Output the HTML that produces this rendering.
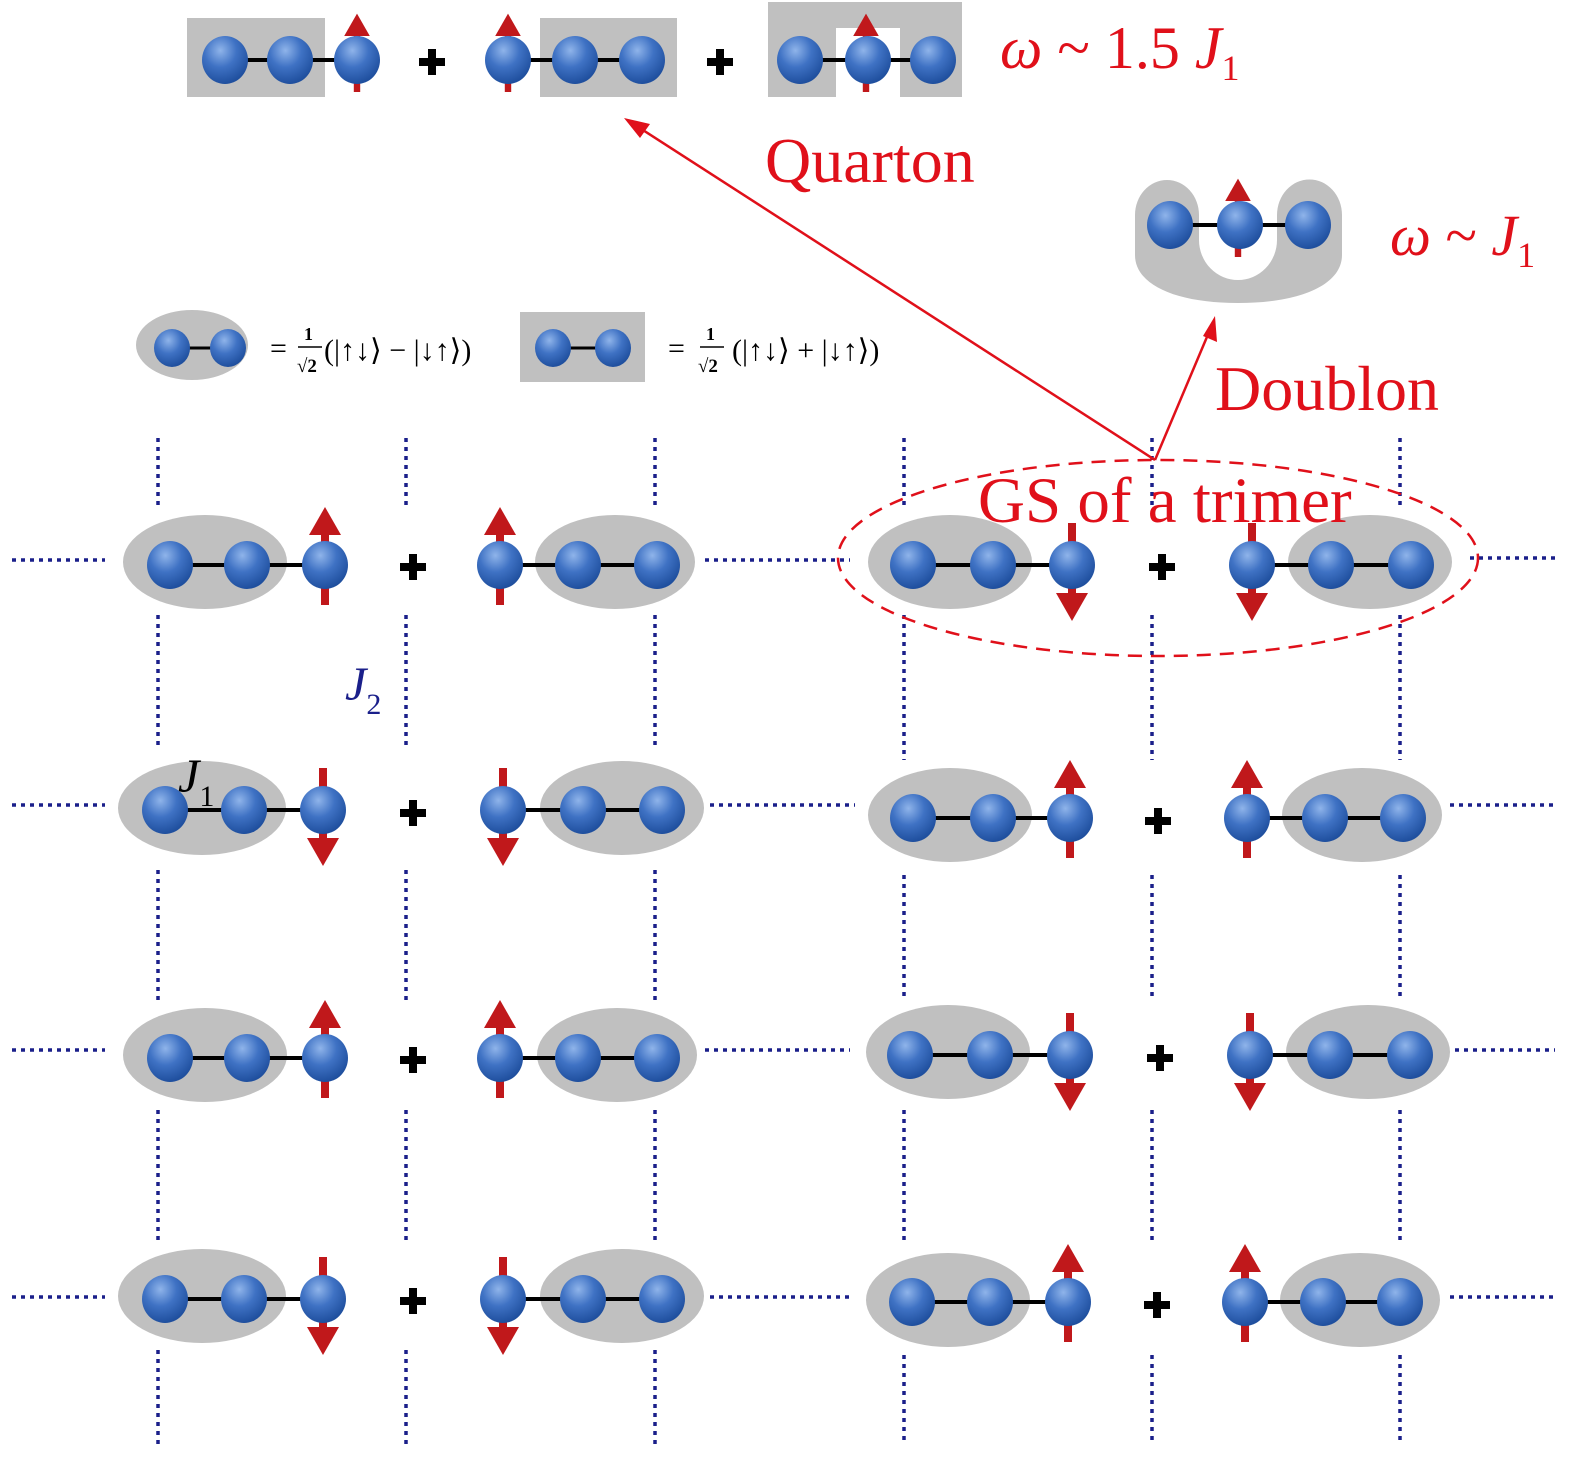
<!DOCTYPE html>
<html><head><meta charset="utf-8"><style>html,body{margin:0;padding:0;background:#fff}svg{display:block}</style></head><body>
<svg width="1583" height="1460" viewBox="0 0 1583 1460" xmlns="http://www.w3.org/2000/svg">
<defs>
<radialGradient id="bg" cx="0.4" cy="0.3" r="0.7"><stop offset="0" stop-color="#8fb4ea"/><stop offset="0.5" stop-color="#3f72c4"/><stop offset="1" stop-color="#1f4f9e"/></radialGradient>
<g id="b"><ellipse cx="0" cy="0" rx="23" ry="24" fill="url(#bg)"/></g>
<g id="bs"><ellipse cx="0" cy="0" rx="18" ry="19" fill="url(#bg)"/></g>
<g id="up"><rect x="-4" y="-30" width="8" height="70" fill="#c0181b"/><polygon points="-16,-30 16,-30 0,-58" fill="#c0181b"/></g>
<g id="dn"><rect x="-4" y="-42" width="8" height="70" fill="#c0181b"/><polygon points="-16,28 16,28 0,56" fill="#c0181b"/></g>
<g id="pl"><rect x="-13" y="-4" width="26" height="8" fill="#000"/><rect x="-4" y="-13" width="8" height="26" fill="#000"/></g>
</defs>
<g stroke="#1a1f8a" stroke-width="3.5" stroke-dasharray="4,5">
<line x1="158" y1="438" x2="158" y2="505"/><line x1="158" y1="615" x2="158" y2="750"/><line x1="158" y1="870" x2="158" y2="1000"/><line x1="158" y1="1110" x2="158" y2="1240"/><line x1="158" y1="1350" x2="158" y2="1445"/>
<line x1="406" y1="438" x2="406" y2="505"/><line x1="406" y1="615" x2="406" y2="750"/><line x1="406" y1="870" x2="406" y2="1000"/><line x1="406" y1="1110" x2="406" y2="1240"/><line x1="406" y1="1350" x2="406" y2="1445"/>
<line x1="655" y1="438" x2="655" y2="505"/><line x1="655" y1="615" x2="655" y2="750"/><line x1="655" y1="870" x2="655" y2="1000"/><line x1="655" y1="1110" x2="655" y2="1240"/><line x1="655" y1="1350" x2="655" y2="1445"/>
<line x1="904" y1="438" x2="904" y2="505"/><line x1="904" y1="615" x2="904" y2="760"/><line x1="904" y1="875" x2="904" y2="1000"/><line x1="904" y1="1110" x2="904" y2="1245"/><line x1="904" y1="1355" x2="904" y2="1445"/>
<line x1="1152" y1="438" x2="1152" y2="505"/><line x1="1152" y1="615" x2="1152" y2="760"/><line x1="1152" y1="875" x2="1152" y2="1000"/><line x1="1152" y1="1110" x2="1152" y2="1245"/><line x1="1152" y1="1355" x2="1152" y2="1445"/>
<line x1="1400" y1="438" x2="1400" y2="505"/><line x1="1400" y1="615" x2="1400" y2="760"/><line x1="1400" y1="875" x2="1400" y2="1000"/><line x1="1400" y1="1110" x2="1400" y2="1245"/><line x1="1400" y1="1355" x2="1400" y2="1445"/>
<line x1="12" y1="560" x2="105" y2="560"/><line x1="705" y1="560" x2="850" y2="560"/><line x1="1470" y1="558" x2="1555" y2="558"/>
<line x1="12" y1="805" x2="105" y2="805"/><line x1="710" y1="805" x2="855" y2="805"/><line x1="1450" y1="805" x2="1555" y2="805"/>
<line x1="12" y1="1050" x2="105" y2="1050"/><line x1="705" y1="1050" x2="850" y2="1050"/><line x1="1455" y1="1050" x2="1555" y2="1050"/>
<line x1="12" y1="1297" x2="105" y2="1297"/><line x1="710" y1="1297" x2="850" y2="1297"/><line x1="1450" y1="1297" x2="1555" y2="1297"/>
</g>
<g>
<ellipse cx="205" cy="562" rx="82" ry="47" fill="#c0c0c0"/><ellipse cx="615" cy="562" rx="80" ry="47" fill="#c0c0c0"/>
<line x1="170" y1="565" x2="325" y2="565" stroke="#000" stroke-width="4"/><line x1="500" y1="565" x2="657" y2="565" stroke="#000" stroke-width="4"/>
<use href="#up" x="325" y="565"/><use href="#up" x="500" y="565"/>
<use href="#b" x="170" y="565"/><use href="#b" x="247" y="565"/><use href="#b" x="325" y="565"/><use href="#pl" x="413" y="567"/><use href="#b" x="500" y="565"/><use href="#b" x="578" y="565"/><use href="#b" x="657" y="565"/>
</g>
<g>
<ellipse cx="202" cy="808" rx="84" ry="47" fill="#c0c0c0"/><ellipse cx="622" cy="808" rx="82" ry="47" fill="#c0c0c0"/>
<line x1="165" y1="810" x2="323" y2="810" stroke="#000" stroke-width="4"/><line x1="503" y1="810" x2="662" y2="810" stroke="#000" stroke-width="4"/>
<use href="#dn" x="323" y="810"/><use href="#dn" x="503" y="810"/>
<use href="#b" x="165" y="810"/><use href="#b" x="244" y="810"/><use href="#b" x="323" y="810"/><use href="#pl" x="413" y="813"/><use href="#b" x="503" y="810"/><use href="#b" x="583" y="810"/><use href="#b" x="662" y="810"/>
</g>
<g>
<ellipse cx="205" cy="1055" rx="82" ry="47" fill="#c0c0c0"/><ellipse cx="617" cy="1055" rx="80" ry="47" fill="#c0c0c0"/>
<line x1="170" y1="1058" x2="325" y2="1058" stroke="#000" stroke-width="4"/><line x1="500" y1="1058" x2="657" y2="1058" stroke="#000" stroke-width="4"/>
<use href="#up" x="325" y="1058"/><use href="#up" x="500" y="1058"/>
<use href="#b" x="170" y="1058"/><use href="#b" x="247" y="1058"/><use href="#b" x="325" y="1058"/><use href="#pl" x="413" y="1060"/><use href="#b" x="500" y="1058"/><use href="#b" x="578" y="1058"/><use href="#b" x="657" y="1058"/>
</g>
<g>
<ellipse cx="202" cy="1296" rx="84" ry="47" fill="#c0c0c0"/><ellipse cx="622" cy="1296" rx="82" ry="47" fill="#c0c0c0"/>
<line x1="165" y1="1299" x2="323" y2="1299" stroke="#000" stroke-width="4"/><line x1="503" y1="1299" x2="662" y2="1299" stroke="#000" stroke-width="4"/>
<use href="#dn" x="323" y="1299"/><use href="#dn" x="503" y="1299"/>
<use href="#b" x="165" y="1299"/><use href="#b" x="244" y="1299"/><use href="#b" x="323" y="1299"/><use href="#pl" x="413" y="1301"/><use href="#b" x="503" y="1299"/><use href="#b" x="583" y="1299"/><use href="#b" x="662" y="1299"/>
</g>
<g>
<ellipse cx="950" cy="562" rx="82" ry="47" fill="#c0c0c0"/><ellipse cx="1370" cy="562" rx="82" ry="47" fill="#c0c0c0"/>
<line x1="913" y1="565" x2="1072" y2="565" stroke="#000" stroke-width="4"/><line x1="1252" y1="565" x2="1411" y2="565" stroke="#000" stroke-width="4"/>
<use href="#dn" x="1072" y="565"/><use href="#dn" x="1252" y="565"/>
<use href="#b" x="913" y="565"/><use href="#b" x="993" y="565"/><use href="#b" x="1072" y="565"/><use href="#pl" x="1162" y="567"/><use href="#b" x="1252" y="565"/><use href="#b" x="1331" y="565"/><use href="#b" x="1411" y="565"/>
</g>
<g>
<ellipse cx="950" cy="815" rx="82" ry="47" fill="#c0c0c0"/><ellipse cx="1362" cy="815" rx="80" ry="47" fill="#c0c0c0"/>
<line x1="913" y1="818" x2="1070" y2="818" stroke="#000" stroke-width="4"/><line x1="1247" y1="818" x2="1403" y2="818" stroke="#000" stroke-width="4"/>
<use href="#up" x="1070" y="818"/><use href="#up" x="1247" y="818"/>
<use href="#b" x="913" y="818"/><use href="#b" x="993" y="818"/><use href="#b" x="1070" y="818"/><use href="#pl" x="1158" y="821"/><use href="#b" x="1247" y="818"/><use href="#b" x="1325" y="818"/><use href="#b" x="1403" y="818"/>
</g>
<g>
<ellipse cx="948" cy="1052" rx="82" ry="47" fill="#c0c0c0"/><ellipse cx="1368" cy="1052" rx="82" ry="47" fill="#c0c0c0"/>
<line x1="910" y1="1055" x2="1070" y2="1055" stroke="#000" stroke-width="4"/><line x1="1250" y1="1055" x2="1410" y2="1055" stroke="#000" stroke-width="4"/>
<use href="#dn" x="1070" y="1055"/><use href="#dn" x="1250" y="1055"/>
<use href="#b" x="910" y="1055"/><use href="#b" x="990" y="1055"/><use href="#b" x="1070" y="1055"/><use href="#pl" x="1160" y="1058"/><use href="#b" x="1250" y="1055"/><use href="#b" x="1330" y="1055"/><use href="#b" x="1410" y="1055"/>
</g>
<g>
<ellipse cx="948" cy="1300" rx="82" ry="47" fill="#c0c0c0"/><ellipse cx="1360" cy="1300" rx="80" ry="47" fill="#c0c0c0"/>
<line x1="912" y1="1302" x2="1068" y2="1302" stroke="#000" stroke-width="4"/><line x1="1245" y1="1302" x2="1400" y2="1302" stroke="#000" stroke-width="4"/>
<use href="#up" x="1068" y="1302"/><use href="#up" x="1245" y="1302"/>
<use href="#b" x="912" y="1302"/><use href="#b" x="990" y="1302"/><use href="#b" x="1068" y="1302"/><use href="#pl" x="1157" y="1305"/><use href="#b" x="1245" y="1302"/><use href="#b" x="1323" y="1302"/><use href="#b" x="1400" y="1302"/>
</g>
<rect x="187" y="18" width="138" height="79" fill="#c0c0c0"/>
<line x1="225" y1="60" x2="357" y2="60" stroke="#000" stroke-width="4"/>
<g transform="translate(357,60) scale(0.8)"><use href="#up"/></g>
<use href="#b" x="225" y="60"/><use href="#b" x="290" y="60"/><use href="#b" x="357" y="60"/>
<use href="#pl" x="432" y="62"/>
<rect x="540" y="18" width="137" height="79" fill="#c0c0c0"/>
<line x1="508" y1="60" x2="642" y2="60" stroke="#000" stroke-width="4"/>
<g transform="translate(508,60) scale(0.8)"><use href="#up"/></g>
<use href="#b" x="508" y="60"/><use href="#b" x="575" y="60"/><use href="#b" x="642" y="60"/>
<use href="#pl" x="720" y="62"/>
<path d="M768 2 H962 V97 H900 V28 H836 V97 H768 Z" fill="#c0c0c0"/>
<line x1="800" y1="60" x2="933" y2="60" stroke="#000" stroke-width="4"/>
<g transform="translate(866,60) scale(0.8)"><use href="#up"/></g>
<use href="#b" x="800" y="60"/><use href="#b" x="868" y="60"/><use href="#b" x="933" y="60"/>
<path d="M1135 215 A32 35 0 0 1 1199 215 V240 A39 40 0 0 0 1277 240 V215 A32 35 0 0 1 1342 215 V255 C1342 285 1300 303 1238 303 C1176 303 1135 285 1135 255 Z" fill="#c0c0c0"/>
<line x1="1170" y1="225" x2="1308" y2="225" stroke="#000" stroke-width="4"/>
<g transform="translate(1238,225) scale(0.8)"><use href="#up"/></g>
<use href="#b" x="1170" y="225"/><use href="#b" x="1240" y="225"/><use href="#b" x="1308" y="225"/>
<ellipse cx="192" cy="345" rx="56" ry="35" fill="#c0c0c0"/>
<line x1="172" y1="348" x2="228" y2="348" stroke="#000" stroke-width="3"/>
<use href="#bs" x="172" y="348"/><use href="#bs" x="228" y="348"/>
<rect x="520" y="312" width="125" height="70" fill="#c0c0c0"/>
<line x1="553" y1="348" x2="613" y2="348" stroke="#000" stroke-width="3"/>
<use href="#bs" x="553" y="348"/><use href="#bs" x="613" y="348"/>
<g font-family="'Liberation Serif',serif" font-size="30" fill="#000">
<text x="270" y="358">=</text><text x="304" y="340" font-size="18" font-weight="bold">1</text><line x1="298" y1="347" x2="322" y2="347" stroke="#000" stroke-width="1.5"/><text x="297" y="372" font-size="19" font-weight="bold">√2</text>
<text x="324" y="360">(|↑↓⟩ − |↓↑⟩)</text>
<text x="668" y="358">=</text><text x="706" y="340" font-size="18" font-weight="bold">1</text><line x1="700" y1="347" x2="724" y2="347" stroke="#000" stroke-width="1.5"/><text x="698" y="372" font-size="19" font-weight="bold">√2</text>
<text x="732" y="360">(|↑↓⟩ + |↓↑⟩)</text>
</g>
<g stroke="#e0101a" stroke-width="2.5" fill="none">
<line x1="1155" y1="460" x2="632" y2="123"/>
<line x1="1155" y1="460" x2="1212" y2="325"/>
<ellipse cx="1158" cy="558" rx="320" ry="98" stroke-dasharray="14,9"/>
</g>
<polygon points="624,118 650,124 640,138" fill="#e0101a"/>
<polygon points="1215,316 1217,342 1203,336" fill="#e0101a"/>
<g font-family="'Liberation Serif',serif" fill="#e0101a">
<text x="1000" y="68" font-size="60"><tspan font-style="italic">ω</tspan> ~ 1.5 <tspan font-style="italic">J</tspan><tspan font-size="36" dy="12">1</tspan></text>
<text x="765" y="182" font-size="64">Quarton</text>
<text x="1390" y="255" font-size="58"><tspan font-style="italic">ω</tspan> ~ <tspan font-style="italic">J</tspan><tspan font-size="36" dy="12">1</tspan></text>
<text x="1215" y="410" font-size="64">Doublon</text>
<text x="978" y="522" font-size="65">GS of a trimer</text>
</g>
<g font-family="'Liberation Serif',serif" font-style="italic">
<text x="345" y="700" font-size="48" fill="#1a1f8a">J<tspan font-size="30" dy="14" font-style="normal">2</tspan></text>
<text x="178" y="792" font-size="48" fill="#000">J<tspan font-size="30" dy="14" font-style="normal">1</tspan></text>
</g>
</svg>
</body></html>
